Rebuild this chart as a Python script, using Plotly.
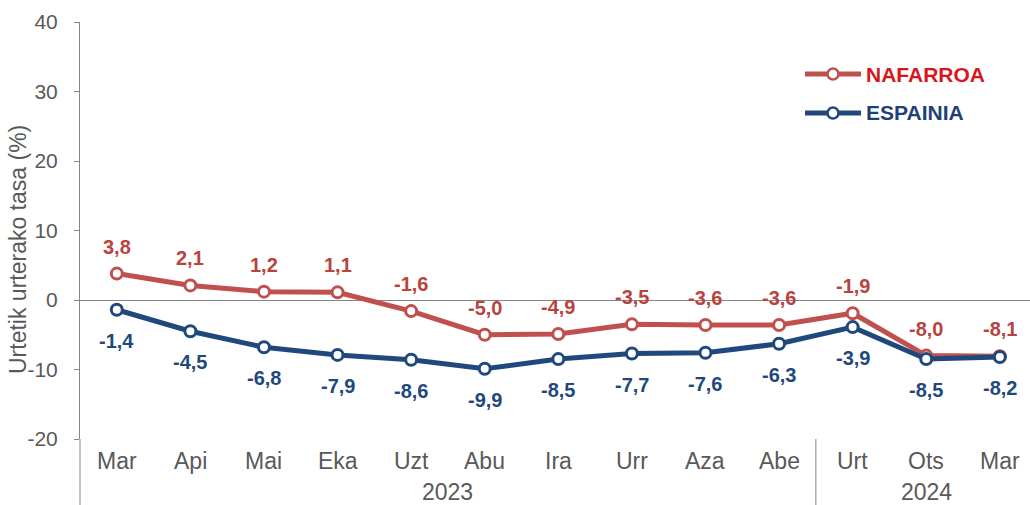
import plotly.graph_objects as go

months = ["Mar", "Api", "Mai", "Eka", "Uzt", "Abu", "Ira", "Urr", "Aza", "Abe", "Urt", "Ots", "Mar"]
years = ["2023", "2024"]
year_centers = [4.5, 11]
separator_at = 9.5
nafarroa = [3.8, 2.1, 1.2, 1.1, -1.6, -5.0, -4.9, -3.5, -3.6, -3.6, -1.9, -8.0, -8.1]
espainia = [-1.4, -4.5, -6.8, -7.9, -8.6, -9.9, -8.5, -7.7, -7.6, -6.3, -3.9, -8.5, -8.2]
y_ticks = [-20, -10, 0, 10, 20, 30, 40]
series_names = ["NAFARROA", "ESPAINIA"]

RED = "#C0504D"
BLUE = "#1F497D"
RED_LBL = "#B8433F"
BLUE_LBL = "#1F497D"
LEG_COLORS = ["#D9161B", "#1F3F7A"]
GRAY = "#595959"
AXIS = "#868686"
FONT = "Liberation Sans, Arial, sans-serif"

W, H = 1030, 505
L, R, T, B = 80, 0, 22, 66
PW, PH = W - L - R, H - T - B

x = list(range(len(months)))

fig = go.Figure()
for vals, col in [(nafarroa, RED), (espainia, BLUE)]:
    fig.add_trace(go.Scatter(
        x=x, y=vals, mode="lines+markers", showlegend=False,
        line=dict(color=col, width=5),
        marker=dict(symbol="circle", size=11, color="white", line=dict(color=col, width=3)),
    ))

def fmt(v):
    return f"{v:.1f}".replace(".", ",")

annotations = []
for i, v in enumerate(nafarroa):
    annotations.append(dict(x=i, y=v, xref="x", yref="y", text=f"<b>{fmt(v)}</b>", showarrow=False,
                            yshift=27, font=dict(family=FONT, size=20, color=RED_LBL)))
for i, v in enumerate(espainia):
    annotations.append(dict(x=i, y=v, xref="x", yref="y", text=f"<b>{fmt(v)}</b>", showarrow=False,
                            yshift=-31, font=dict(family=FONT, size=20, color=BLUE_LBL)))
for i, m in enumerate(months):
    annotations.append(dict(x=i, y=(439 - 461) / PH, xref="x", yref="paper", text=m, showarrow=False,
                            yanchor="middle", font=dict(family=FONT, size=23, color=GRAY)))
for c, yr in zip(year_centers, years):
    annotations.append(dict(x=c, y=(439 - 492) / PH, xref="x", yref="paper", text=yr, showarrow=False,
                            yanchor="middle", font=dict(family=FONT, size=23, color=GRAY)))
# y-axis title
annotations.append(dict(x=(18 - L) / PW, y=(H - B - 250) / PH, xref="paper", yref="paper",
                        text="Urtetik urterako tasa (%)",
                        textangle=-90, showarrow=False, xanchor="center", yanchor="middle",
                        font=dict(family=FONT, size=23, color=GRAY)))

shapes = [
    dict(type="line", xref="paper", yref="paper", x0=0, x1=0, y0=0, y1=-B / PH,
         line=dict(color=AXIS, width=1)),
    dict(type="line", xref="x", yref="paper", x0=separator_at, x1=separator_at, y0=0, y1=-B / PH,
         line=dict(color=AXIS, width=1)),
]

# manual legend (line sample with marker + bold coloured text)
leg_rows = [74, 113]
for name, col, tcol, py in zip(series_names, [RED, BLUE], LEG_COLORS, leg_rows):
    yp = (H - B - py) / PH
    x0p, x1p, xm = (805 - L) / PW, (861 - L) / PW, (833 - L) / PW
    shapes.append(dict(type="line", xref="paper", yref="paper", x0=x0p, x1=x1p, y0=yp, y1=yp,
                       line=dict(color=col, width=5)))
    r = 5.5
    shapes.append(dict(type="circle", xref="paper", yref="paper",
                       x0=xm - r / PW, x1=xm + r / PW, y0=yp - r / PH, y1=yp + r / PH,
                       fillcolor="white", line=dict(color=col, width=2.5)))
    annotations.append(dict(x=(864 - L) / PW, y=yp, xref="paper", yref="paper", text=f"<b>{name}</b>",
                            showarrow=False, xanchor="left", yanchor="middle",
                            font=dict(family=FONT, size=21, color=tcol)))

fig.update_layout(
    width=W, height=H,
    margin=dict(l=L, r=R, t=T, b=B),
    paper_bgcolor="white", plot_bgcolor="white",
    font=dict(family=FONT, size=17, color=GRAY),
    showlegend=False,
    xaxis=dict(range=[-0.5, 12.41], showticklabels=False, showgrid=False, zeroline=False,
               showline=False, ticks="", automargin=False),
    yaxis=dict(range=[-20, 40], tickvals=y_ticks, ticktext=[str(t) for t in y_ticks],
               showgrid=False, zeroline=True,
               zerolinecolor=AXIS, zerolinewidth=1, showline=True, linecolor=AXIS,
               linewidth=1, ticks="outside", ticklen=5, tickcolor=AXIS, automargin=False,
               ticklabelstandoff=12,
               tickfont=dict(family=FONT, size=21, color=GRAY)),
    annotations=annotations,
    shapes=shapes,
)

fig.write_html("out.html", config={"displayModeBar": False},
               post_script="document.body.style.margin='0';document.body.style.overflow='hidden';")
